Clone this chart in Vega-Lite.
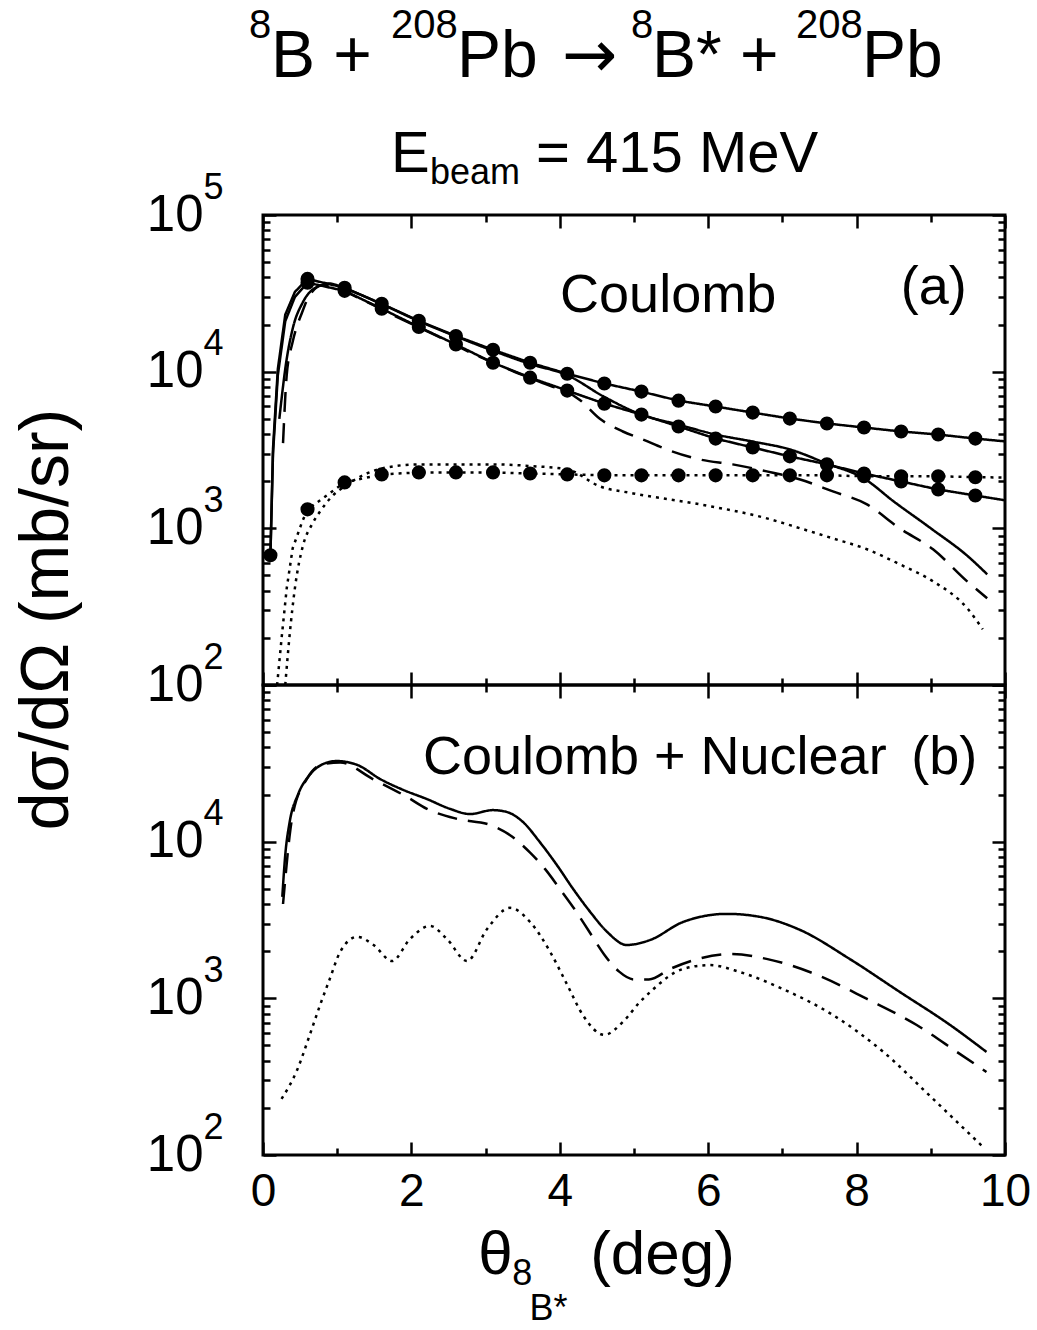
{
  "$schema": "https://vega.github.io/schema/vega-lite/v6.json",
  "background": "white",
  "padding": {"left": 11, "top": 4, "right": 5, "bottom": 5},
  "config": {
    "font": "Liberation Sans",
    "view": {"stroke": "black", "strokeWidth": 3},
    "axis": {"grid": false, "domain": false, "tickColor": "black", "tickWidth": 2.5, "labelColor": "black", "labelFont": "Liberation Sans", "titleFont": "Liberation Sans", "titleColor": "black", "titleFontWeight": "normal", "labelFlush": false, "labelOverlap": false, "labelBound": false},
    "text": {"font": "Liberation Sans", "color": "black", "baseline": "alphabetic", "align": "left"}
  },
  "datasets": {
    "curves": [
      {"curve": "a-solid-dots-upper", "x": 0.1, "y": 673}, {"curve": "a-solid-dots-upper", "x": 0.135, "y": 3240}, {"curve": "a-solid-dots-upper", "x": 0.2, "y": 10400}, {"curve": "a-solid-dots-upper", "x": 0.3, "y": 23100}, {"curve": "a-solid-dots-upper", "x": 0.43, "y": 32300}, {"curve": "a-solid-dots-upper", "x": 0.6, "y": 39100}, {"curve": "a-solid-dots-upper", "x": 1.1, "y": 34300}, {"curve": "a-solid-dots-upper", "x": 1.6, "y": 27100}, {"curve": "a-solid-dots-upper", "x": 2.1, "y": 21100}, {"curve": "a-solid-dots-upper", "x": 2.6, "y": 16900}, {"curve": "a-solid-dots-upper", "x": 3.1, "y": 13800}, {"curve": "a-solid-dots-upper", "x": 3.6, "y": 11400}, {"curve": "a-solid-dots-upper", "x": 4.1, "y": 9700}, {"curve": "a-solid-dots-upper", "x": 4.6, "y": 8400}, {"curve": "a-solid-dots-upper", "x": 5.1, "y": 7460}, {"curve": "a-solid-dots-upper", "x": 5.6, "y": 6530}, {"curve": "a-solid-dots-upper", "x": 6.1, "y": 5990}, {"curve": "a-solid-dots-upper", "x": 6.6, "y": 5480}, {"curve": "a-solid-dots-upper", "x": 7.1, "y": 5020}, {"curve": "a-solid-dots-upper", "x": 7.6, "y": 4670}, {"curve": "a-solid-dots-upper", "x": 8.1, "y": 4400}, {"curve": "a-solid-dots-upper", "x": 8.6, "y": 4150}, {"curve": "a-solid-dots-upper", "x": 9.1, "y": 3970}, {"curve": "a-solid-dots-upper", "x": 9.6, "y": 3740}, {"curve": "a-solid-dots-upper", "x": 10, "y": 3590},
      {"curve": "a-solid-dots-lower", "x": 0.1, "y": 673}, {"curve": "a-solid-dots-lower", "x": 0.135, "y": 3000}, {"curve": "a-solid-dots-lower", "x": 0.2, "y": 9500}, {"curve": "a-solid-dots-lower", "x": 0.3, "y": 21000}, {"curve": "a-solid-dots-lower", "x": 0.43, "y": 30000}, {"curve": "a-solid-dots-lower", "x": 0.6, "y": 37000}, {"curve": "a-solid-dots-lower", "x": 1.1, "y": 32800}, {"curve": "a-solid-dots-lower", "x": 1.6, "y": 25200}, {"curve": "a-solid-dots-lower", "x": 2.1, "y": 19300}, {"curve": "a-solid-dots-lower", "x": 2.6, "y": 14900}, {"curve": "a-solid-dots-lower", "x": 3.1, "y": 11400}, {"curve": "a-solid-dots-lower", "x": 3.6, "y": 9160}, {"curve": "a-solid-dots-lower", "x": 4.1, "y": 7570}, {"curve": "a-solid-dots-lower", "x": 4.6, "y": 6250}, {"curve": "a-solid-dots-lower", "x": 5.1, "y": 5320}, {"curve": "a-solid-dots-lower", "x": 5.6, "y": 4470}, {"curve": "a-solid-dots-lower", "x": 6.1, "y": 3740}, {"curve": "a-solid-dots-lower", "x": 6.6, "y": 3280}, {"curve": "a-solid-dots-lower", "x": 7.1, "y": 2880}, {"curve": "a-solid-dots-lower", "x": 7.6, "y": 2560}, {"curve": "a-solid-dots-lower", "x": 8.1, "y": 2240}, {"curve": "a-solid-dots-lower", "x": 8.6, "y": 1990}, {"curve": "a-solid-dots-lower", "x": 9.1, "y": 1770}, {"curve": "a-solid-dots-lower", "x": 9.6, "y": 1620}, {"curve": "a-solid-dots-lower", "x": 10, "y": 1510},
      {"curve": "a-dotted-dots", "x": 0.19, "y": 100}, {"curve": "a-dotted-dots", "x": 0.256, "y": 211}, {"curve": "a-dotted-dots", "x": 0.32, "y": 415}, {"curve": "a-dotted-dots", "x": 0.4, "y": 746}, {"curve": "a-dotted-dots", "x": 0.53, "y": 1108}, {"curve": "a-dotted-dots", "x": 0.6, "y": 1322}, {"curve": "a-dotted-dots", "x": 1.1, "y": 1963}, {"curve": "a-dotted-dots", "x": 1.6, "y": 2210}, {"curve": "a-dotted-dots", "x": 2.1, "y": 2275}, {"curve": "a-dotted-dots", "x": 2.6, "y": 2275}, {"curve": "a-dotted-dots", "x": 3.1, "y": 2275}, {"curve": "a-dotted-dots", "x": 3.6, "y": 2240}, {"curve": "a-dotted-dots", "x": 4.1, "y": 2210}, {"curve": "a-dotted-dots", "x": 4.6, "y": 2180}, {"curve": "a-dotted-dots", "x": 5.1, "y": 2180}, {"curve": "a-dotted-dots", "x": 5.6, "y": 2180}, {"curve": "a-dotted-dots", "x": 6.1, "y": 2180}, {"curve": "a-dotted-dots", "x": 6.6, "y": 2180}, {"curve": "a-dotted-dots", "x": 7.1, "y": 2180}, {"curve": "a-dotted-dots", "x": 7.6, "y": 2180}, {"curve": "a-dotted-dots", "x": 8.1, "y": 2150}, {"curve": "a-dotted-dots", "x": 8.6, "y": 2150}, {"curve": "a-dotted-dots", "x": 9.1, "y": 2150}, {"curve": "a-dotted-dots", "x": 9.6, "y": 2120}, {"curve": "a-dotted-dots", "x": 10, "y": 2110},
      {"curve": "a-solid", "x": 0.22, "y": 5000}, {"curve": "a-solid", "x": 0.32, "y": 12100}, {"curve": "a-solid", "x": 0.4, "y": 18800}, {"curve": "a-solid", "x": 0.54, "y": 27900}, {"curve": "a-solid", "x": 0.73, "y": 34800}, {"curve": "a-solid", "x": 0.9, "y": 36500}, {"curve": "a-solid", "x": 1.1, "y": 34000}, {"curve": "a-solid", "x": 1.6, "y": 27000}, {"curve": "a-solid", "x": 2.1, "y": 21000}, {"curve": "a-solid", "x": 2.6, "y": 16800}, {"curve": "a-solid", "x": 3.1, "y": 13600}, {"curve": "a-solid", "x": 3.6, "y": 11200}, {"curve": "a-solid", "x": 4.1, "y": 9500}, {"curve": "a-solid", "x": 4.6, "y": 6900}, {"curve": "a-solid", "x": 5.1, "y": 5320}, {"curve": "a-solid", "x": 5.6, "y": 4590}, {"curve": "a-solid", "x": 6.1, "y": 3970}, {"curve": "a-solid", "x": 6.6, "y": 3580}, {"curve": "a-solid", "x": 7.1, "y": 3190}, {"curve": "a-solid", "x": 7.6, "y": 2590}, {"curve": "a-solid", "x": 8.1, "y": 2080}, {"curve": "a-solid", "x": 8.5, "y": 1485}, {"curve": "a-solid", "x": 9.0, "y": 1000}, {"curve": "a-solid", "x": 9.5, "y": 663}, {"curve": "a-solid", "x": 9.76, "y": 509},
      {"curve": "a-dashed", "x": 0.27, "y": 3500}, {"curve": "a-dashed", "x": 0.32, "y": 9570}, {"curve": "a-dashed", "x": 0.4, "y": 15500}, {"curve": "a-dashed", "x": 0.53, "y": 24100}, {"curve": "a-dashed", "x": 0.63, "y": 30900}, {"curve": "a-dashed", "x": 0.81, "y": 35800}, {"curve": "a-dashed", "x": 1.0, "y": 34000}, {"curve": "a-dashed", "x": 1.31, "y": 29200}, {"curve": "a-dashed", "x": 1.8, "y": 22400}, {"curve": "a-dashed", "x": 2.3, "y": 17300}, {"curve": "a-dashed", "x": 2.83, "y": 13000}, {"curve": "a-dashed", "x": 3.28, "y": 10500}, {"curve": "a-dashed", "x": 3.73, "y": 8600}, {"curve": "a-dashed", "x": 4.27, "y": 6600}, {"curve": "a-dashed", "x": 4.54, "y": 5000}, {"curve": "a-dashed", "x": 4.85, "y": 4150}, {"curve": "a-dashed", "x": 5.12, "y": 3690}, {"curve": "a-dashed", "x": 5.44, "y": 3190}, {"curve": "a-dashed", "x": 5.89, "y": 2750}, {"curve": "a-dashed", "x": 6.33, "y": 2560}, {"curve": "a-dashed", "x": 6.79, "y": 2310}, {"curve": "a-dashed", "x": 7.24, "y": 2050}, {"curve": "a-dashed", "x": 7.68, "y": 1720}, {"curve": "a-dashed", "x": 8.14, "y": 1422}, {"curve": "a-dashed", "x": 8.58, "y": 1000}, {"curve": "a-dashed", "x": 9.03, "y": 735}, {"curve": "a-dashed", "x": 9.49, "y": 459}, {"curve": "a-dashed", "x": 9.76, "y": 358},
      {"curve": "a-dotted", "x": 0.3, "y": 100}, {"curve": "a-dotted", "x": 0.36, "y": 211}, {"curve": "a-dotted", "x": 0.43, "y": 415}, {"curve": "a-dotted", "x": 0.54, "y": 780}, {"curve": "a-dotted", "x": 0.66, "y": 1060}, {"curve": "a-dotted", "x": 0.77, "y": 1283}, {"curve": "a-dotted", "x": 0.93, "y": 1600}, {"curve": "a-dotted", "x": 1.1, "y": 1853}, {"curve": "a-dotted", "x": 1.6, "y": 2410}, {"curve": "a-dotted", "x": 2.1, "y": 2560}, {"curve": "a-dotted", "x": 2.6, "y": 2560}, {"curve": "a-dotted", "x": 3.1, "y": 2560}, {"curve": "a-dotted", "x": 3.6, "y": 2500}, {"curve": "a-dotted", "x": 4.1, "y": 2380}, {"curve": "a-dotted", "x": 4.54, "y": 1853}, {"curve": "a-dotted", "x": 4.99, "y": 1671}, {"curve": "a-dotted", "x": 5.89, "y": 1422}, {"curve": "a-dotted", "x": 6.79, "y": 1158}, {"curve": "a-dotted", "x": 7.24, "y": 1000}, {"curve": "a-dotted", "x": 7.68, "y": 863}, {"curve": "a-dotted", "x": 8.14, "y": 735}, {"curve": "a-dotted", "x": 8.58, "y": 590}, {"curve": "a-dotted", "x": 9.03, "y": 459}, {"curve": "a-dotted", "x": 9.49, "y": 309}, {"curve": "a-dotted", "x": 9.7, "y": 227},
      {"curve": "b-solid", "x": 0.26, "y": 4440}, {"curve": "b-solid", "x": 0.3, "y": 8230}, {"curve": "b-solid", "x": 0.36, "y": 13400}, {"curve": "b-solid", "x": 0.47, "y": 19900}, {"curve": "b-solid", "x": 0.63, "y": 26700}, {"curve": "b-solid", "x": 0.81, "y": 31300}, {"curve": "b-solid", "x": 0.99, "y": 32700}, {"curve": "b-solid", "x": 1.27, "y": 30900}, {"curve": "b-solid", "x": 1.58, "y": 25100}, {"curve": "b-solid", "x": 1.89, "y": 21400}, {"curve": "b-solid", "x": 2.21, "y": 18700}, {"curve": "b-solid", "x": 2.52, "y": 16200}, {"curve": "b-solid", "x": 2.79, "y": 15000}, {"curve": "b-solid", "x": 3.1, "y": 15900}, {"curve": "b-solid", "x": 3.28, "y": 15500}, {"curve": "b-solid", "x": 3.5, "y": 13400}, {"curve": "b-solid", "x": 3.73, "y": 9950}, {"curve": "b-solid", "x": 3.96, "y": 7100}, {"curve": "b-solid", "x": 4.18, "y": 4990}, {"curve": "b-solid", "x": 4.41, "y": 3560}, {"curve": "b-solid", "x": 4.64, "y": 2650}, {"curve": "b-solid", "x": 4.9, "y": 2190}, {"curve": "b-solid", "x": 5.22, "y": 2360}, {"curve": "b-solid", "x": 5.66, "y": 3070}, {"curve": "b-solid", "x": 6.25, "y": 3460}, {"curve": "b-solid", "x": 6.7, "y": 3310}, {"curve": "b-solid", "x": 7.24, "y": 2730}, {"curve": "b-solid", "x": 7.91, "y": 1780}, {"curve": "b-solid", "x": 8.58, "y": 1100}, {"curve": "b-solid", "x": 9.26, "y": 676}, {"curve": "b-solid", "x": 9.75, "y": 455},
      {"curve": "b-dashed", "x": 0.27, "y": 4000}, {"curve": "b-dashed", "x": 0.4, "y": 14800}, {"curve": "b-dashed", "x": 0.59, "y": 25100}, {"curve": "b-dashed", "x": 0.81, "y": 31300}, {"curve": "b-dashed", "x": 1.04, "y": 32000}, {"curve": "b-dashed", "x": 1.48, "y": 25100}, {"curve": "b-dashed", "x": 1.94, "y": 19300}, {"curve": "b-dashed", "x": 2.21, "y": 16200}, {"curve": "b-dashed", "x": 2.61, "y": 14000}, {"curve": "b-dashed", "x": 3.06, "y": 12800}, {"curve": "b-dashed", "x": 3.33, "y": 11000}, {"curve": "b-dashed", "x": 3.6, "y": 8500}, {"curve": "b-dashed", "x": 3.8, "y": 6700}, {"curve": "b-dashed", "x": 4.0, "y": 5000}, {"curve": "b-dashed", "x": 4.2, "y": 3700}, {"curve": "b-dashed", "x": 4.4, "y": 2650}, {"curve": "b-dashed", "x": 4.6, "y": 1900}, {"curve": "b-dashed", "x": 4.8, "y": 1480}, {"curve": "b-dashed", "x": 5.0, "y": 1320}, {"curve": "b-dashed", "x": 5.2, "y": 1320}, {"curve": "b-dashed", "x": 5.5, "y": 1550}, {"curve": "b-dashed", "x": 5.8, "y": 1750}, {"curve": "b-dashed", "x": 6.3, "y": 1920}, {"curve": "b-dashed", "x": 6.8, "y": 1780}, {"curve": "b-dashed", "x": 7.47, "y": 1410}, {"curve": "b-dashed", "x": 8.14, "y": 991}, {"curve": "b-dashed", "x": 8.81, "y": 676}, {"curve": "b-dashed", "x": 9.39, "y": 442}, {"curve": "b-dashed", "x": 9.75, "y": 339},
      {"curve": "b-dotted", "x": 0.25, "y": 228}, {"curve": "b-dotted", "x": 0.46, "y": 349}, {"curve": "b-dotted", "x": 0.63, "y": 584}, {"curve": "b-dotted", "x": 0.77, "y": 908}, {"curve": "b-dotted", "x": 0.9, "y": 1330}, {"curve": "b-dotted", "x": 1.04, "y": 1980}, {"curve": "b-dotted", "x": 1.27, "y": 2470}, {"curve": "b-dotted", "x": 1.49, "y": 2190}, {"curve": "b-dotted", "x": 1.74, "y": 1730}, {"curve": "b-dotted", "x": 1.98, "y": 2390}, {"curve": "b-dotted", "x": 2.25, "y": 2900}, {"curve": "b-dotted", "x": 2.48, "y": 2390}, {"curve": "b-dotted", "x": 2.75, "y": 1730}, {"curve": "b-dotted", "x": 3.02, "y": 2770}, {"curve": "b-dotted", "x": 3.33, "y": 3780}, {"curve": "b-dotted", "x": 3.6, "y": 3070}, {"curve": "b-dotted", "x": 3.87, "y": 1980}, {"curve": "b-dotted", "x": 4.1, "y": 1220}, {"curve": "b-dotted", "x": 4.31, "y": 783}, {"curve": "b-dotted", "x": 4.6, "y": 584}, {"curve": "b-dotted", "x": 4.85, "y": 707}, {"curve": "b-dotted", "x": 5.08, "y": 948}, {"curve": "b-dotted", "x": 5.22, "y": 1100}, {"curve": "b-dotted", "x": 5.66, "y": 1540}, {"curve": "b-dotted", "x": 6.02, "y": 1630}, {"curve": "b-dotted", "x": 6.43, "y": 1470}, {"curve": "b-dotted", "x": 7.0, "y": 1150}, {"curve": "b-dotted", "x": 7.68, "y": 783}, {"curve": "b-dotted", "x": 8.36, "y": 455}, {"curve": "b-dotted", "x": 9.03, "y": 228}, {"curve": "b-dotted", "x": 9.7, "y": 113}
    ],
    "markers": [
      {"curve": "a-solid-dots-upper", "x": 0.1, "y": 673}, {"curve": "a-solid-dots-upper", "x": 0.6, "y": 39100}, {"curve": "a-solid-dots-upper", "x": 1.1, "y": 34300}, {"curve": "a-solid-dots-upper", "x": 1.6, "y": 27100}, {"curve": "a-solid-dots-upper", "x": 2.1, "y": 21100}, {"curve": "a-solid-dots-upper", "x": 2.6, "y": 16900}, {"curve": "a-solid-dots-upper", "x": 3.1, "y": 13800}, {"curve": "a-solid-dots-upper", "x": 3.6, "y": 11400}, {"curve": "a-solid-dots-upper", "x": 4.1, "y": 9700}, {"curve": "a-solid-dots-upper", "x": 4.6, "y": 8400}, {"curve": "a-solid-dots-upper", "x": 5.1, "y": 7460}, {"curve": "a-solid-dots-upper", "x": 5.6, "y": 6530}, {"curve": "a-solid-dots-upper", "x": 6.1, "y": 5990}, {"curve": "a-solid-dots-upper", "x": 6.6, "y": 5480}, {"curve": "a-solid-dots-upper", "x": 7.1, "y": 5020}, {"curve": "a-solid-dots-upper", "x": 7.6, "y": 4670}, {"curve": "a-solid-dots-upper", "x": 8.1, "y": 4400}, {"curve": "a-solid-dots-upper", "x": 8.6, "y": 4150}, {"curve": "a-solid-dots-upper", "x": 9.1, "y": 3970}, {"curve": "a-solid-dots-upper", "x": 9.6, "y": 3740},
      {"curve": "a-solid-dots-lower", "x": 0.6, "y": 37000}, {"curve": "a-solid-dots-lower", "x": 1.1, "y": 32800}, {"curve": "a-solid-dots-lower", "x": 1.6, "y": 25200}, {"curve": "a-solid-dots-lower", "x": 2.1, "y": 19300}, {"curve": "a-solid-dots-lower", "x": 2.6, "y": 14900}, {"curve": "a-solid-dots-lower", "x": 3.1, "y": 11400}, {"curve": "a-solid-dots-lower", "x": 3.6, "y": 9160}, {"curve": "a-solid-dots-lower", "x": 4.1, "y": 7570}, {"curve": "a-solid-dots-lower", "x": 4.6, "y": 6250}, {"curve": "a-solid-dots-lower", "x": 5.1, "y": 5320}, {"curve": "a-solid-dots-lower", "x": 5.6, "y": 4470}, {"curve": "a-solid-dots-lower", "x": 6.1, "y": 3740}, {"curve": "a-solid-dots-lower", "x": 6.6, "y": 3280}, {"curve": "a-solid-dots-lower", "x": 7.1, "y": 2880}, {"curve": "a-solid-dots-lower", "x": 7.6, "y": 2560}, {"curve": "a-solid-dots-lower", "x": 8.1, "y": 2240}, {"curve": "a-solid-dots-lower", "x": 8.6, "y": 1990}, {"curve": "a-solid-dots-lower", "x": 9.1, "y": 1770}, {"curve": "a-solid-dots-lower", "x": 9.6, "y": 1620},
      {"curve": "a-dotted-dots", "x": 0.6, "y": 1322}, {"curve": "a-dotted-dots", "x": 1.1, "y": 1963}, {"curve": "a-dotted-dots", "x": 1.6, "y": 2210}, {"curve": "a-dotted-dots", "x": 2.1, "y": 2275}, {"curve": "a-dotted-dots", "x": 2.6, "y": 2275}, {"curve": "a-dotted-dots", "x": 3.1, "y": 2275}, {"curve": "a-dotted-dots", "x": 3.6, "y": 2240}, {"curve": "a-dotted-dots", "x": 4.1, "y": 2210}, {"curve": "a-dotted-dots", "x": 4.6, "y": 2180}, {"curve": "a-dotted-dots", "x": 5.1, "y": 2180}, {"curve": "a-dotted-dots", "x": 5.6, "y": 2180}, {"curve": "a-dotted-dots", "x": 6.1, "y": 2180}, {"curve": "a-dotted-dots", "x": 6.6, "y": 2180}, {"curve": "a-dotted-dots", "x": 7.1, "y": 2180}, {"curve": "a-dotted-dots", "x": 7.6, "y": 2180}, {"curve": "a-dotted-dots", "x": 8.1, "y": 2150}, {"curve": "a-dotted-dots", "x": 8.6, "y": 2150}, {"curve": "a-dotted-dots", "x": 9.1, "y": 2150}, {"curve": "a-dotted-dots", "x": 9.6, "y": 2120}
    ]
  },
  "vconcat": [
    {
      "width": 742, "height": 470,
      "resolve": {"axis": {"x": "independent", "y": "independent"}},
      "layer": [
        {
          "data": {"name": "curves"},
          "transform": [{"filter": {"field": "curve", "oneOf": ["a-solid-dots-upper", "a-solid-dots-lower", "a-dotted-dots"]}}],
          "mark": {"type": "line", "interpolate": "linear", "clip": true, "strokeWidth": 2.5, "color": "black"},
          "encoding": {
            "x": {"field": "x", "type": "quantitative", "scale": {"domain": [0, 10], "nice": false, "zero": false}, "axis": {"orient": "bottom", "values": [0, 2, 4, 6, 8, 10], "tickSize": -13, "labels": false, "title": null}},
            "y": {"field": "y", "type": "quantitative", "scale": {"type": "log", "domain": [100, 100000], "nice": false}, "axis": {"orient": "left", "values": [100, 1000, 10000, 100000], "tickSize": -13, "labels": false, "title": null}},
            "strokeDash": {"field": "curve", "type": "nominal", "legend": null, "scale": {"domain": ["a-solid-dots-upper", "a-solid-dots-lower", "a-dotted-dots", "a-solid", "a-dashed", "a-dotted", "b-solid", "b-dashed", "b-dotted"], "range": [[1, 0], [1, 0], [3, 5], [1, 0], [20, 11], [3, 5], [1, 0], [20, 11], [3, 5]]}}
          }
        },
        {
          "data": {"name": "curves"},
          "transform": [{"filter": {"field": "curve", "oneOf": ["a-solid", "a-dashed", "a-dotted"]}}],
          "mark": {"type": "line", "interpolate": "monotone", "clip": true, "strokeWidth": 2.5, "color": "black"},
          "encoding": {
            "x": {"field": "x", "type": "quantitative", "scale": {"domain": [0, 10], "nice": false, "zero": false}, "axis": {"orient": "bottom", "values": [1, 3, 5, 7, 9], "tickSize": -7, "labels": false, "title": null}},
            "y": {"field": "y", "type": "quantitative", "scale": {"type": "log", "domain": [100, 100000], "nice": false}, "axis": {"orient": "left", "values": [200, 300, 400, 500, 600, 700, 800, 900, 2000, 3000, 4000, 5000, 6000, 7000, 8000, 9000, 20000, 30000, 40000, 50000, 60000, 70000, 80000, 90000], "tickSize": -7, "labels": false, "title": null}},
            "strokeDash": {"field": "curve", "type": "nominal", "legend": null, "scale": {"domain": ["a-solid-dots-upper", "a-solid-dots-lower", "a-dotted-dots", "a-solid", "a-dashed", "a-dotted", "b-solid", "b-dashed", "b-dotted"], "range": [[1, 0], [1, 0], [3, 5], [1, 0], [20, 11], [3, 5], [1, 0], [20, 11], [3, 5]]}}
          }
        },
        {
          "data": {"name": "markers"},
          "mark": {"type": "point", "filled": true, "size": 200, "color": "black", "opacity": 1, "shape": "circle"},
          "encoding": {
            "x": {"field": "x", "type": "quantitative", "scale": {"domain": [0, 10], "nice": false, "zero": false}, "axis": {"orient": "top", "values": [0, 2, 4, 6, 8, 10], "tickSize": -13, "labels": false, "title": null}},
            "y": {"field": "y", "type": "quantitative", "scale": {"type": "log", "domain": [100, 100000], "nice": false}, "axis": {"orient": "right", "values": [100, 1000, 10000, 100000], "tickSize": -13, "labels": false, "title": null}}
          }
        },
        {
          "data": {"values": [{}]},
          "mark": {"type": "text", "text": "Coulomb", "fontSize": 54, "align": "center"},
          "encoding": {
            "x": {"datum": 5.46, "type": "quantitative", "scale": {"domain": [0, 10], "nice": false, "zero": false}, "axis": {"orient": "top", "values": [1, 3, 5, 7, 9], "tickSize": -7, "labels": false, "title": null}},
            "y": {"datum": 24100, "type": "quantitative", "scale": {"type": "log", "domain": [100, 100000], "nice": false}, "axis": {"orient": "right", "values": [200, 300, 400, 500, 600, 700, 800, 900, 2000, 3000, 4000, 5000, 6000, 7000, 8000, 9000, 20000, 30000, 40000, 50000, 60000, 70000, 80000, 90000], "tickSize": -7, "labels": false, "title": null}}
          }
        },
        {
          "data": {"values": [{}]},
          "mark": {"type": "text", "text": "(a)", "fontSize": 54, "align": "center"},
          "encoding": {
            "x": {"datum": 9.04, "type": "quantitative", "scale": {"domain": [0, 10], "nice": false, "zero": false}, "axis": null},
            "y": {"datum": 27100, "type": "quantitative", "scale": {"type": "log", "domain": [100, 100000], "nice": false}, "axis": {"orient": "left", "values": [100, 1000, 10000, 100000], "ticks": false, "labelExpr": "'10'", "labelFontSize": 51, "labelPadding": 60, "title": "dσ/dΩ (mb/sr)", "titleFontSize": 68, "titleX": -182, "titleY": 404}}
          }
        },
        {
          "data": {"values": [{}]},
          "mark": {"type": "text", "text": "E", "fontSize": 58},
          "encoding": {
            "x": {"datum": 1.725, "type": "quantitative", "scale": {"domain": [0, 10], "nice": false, "zero": false}, "axis": null},
            "y": {"datum": 188000, "type": "quantitative", "scale": {"type": "log", "domain": [100, 100000], "nice": false}, "axis": {"orient": "left", "values": [100, 1000, 10000, 100000], "ticks": false, "labelExpr": "datum.value == 100 ? '2' : datum.value == 1000 ? '3' : datum.value == 10000 ? '4' : '5'", "labelFontSize": 36, "labelAlign": "left", "labelPadding": 60, "labelOffset": -28, "title": null}}
          }
        },
        {
          "data": {"values": [{}]},
          "mark": {"type": "text", "text": "beam", "fontSize": 36},
          "encoding": {
            "x": {"datum": 2.25, "type": "quantitative", "scale": {"domain": [0, 10], "nice": false, "zero": false}, "axis": null},
            "y": {"datum": 157500, "type": "quantitative", "scale": {"type": "log", "domain": [100, 100000], "nice": false}, "axis": null}
          }
        },
        {
          "data": {"values": [{}]},
          "mark": {"type": "text", "text": "= 415 MeV", "fontSize": 58},
          "encoding": {
            "x": {"datum": 3.68, "type": "quantitative", "scale": {"domain": [0, 10], "nice": false, "zero": false}, "axis": null},
            "y": {"datum": 188000, "type": "quantitative", "scale": {"type": "log", "domain": [100, 100000], "nice": false}, "axis": null}
          }
        },
        {
          "data": {"values": [{}]},
          "mark": {"type": "text", "text": "8", "fontSize": 40},
          "encoding": {
            "x": {"datum": -0.189, "type": "quantitative", "scale": {"domain": [0, 10], "nice": false, "zero": false}, "axis": null},
            "y": {"datum": 1340000, "type": "quantitative", "scale": {"type": "log", "domain": [100, 100000], "nice": false}, "axis": null}
          }
        },
        {
          "data": {"values": [{}]},
          "mark": {"type": "text", "text": "B +", "fontSize": 66},
          "encoding": {
            "x": {"datum": 0.108, "type": "quantitative", "scale": {"domain": [0, 10], "nice": false, "zero": false}, "axis": null},
            "y": {"datum": 757000, "type": "quantitative", "scale": {"type": "log", "domain": [100, 100000], "nice": false}, "axis": null}
          }
        },
        {
          "data": {"values": [{}]},
          "mark": {"type": "text", "text": "208", "fontSize": 40},
          "encoding": {
            "x": {"datum": 1.725, "type": "quantitative", "scale": {"domain": [0, 10], "nice": false, "zero": false}, "axis": null},
            "y": {"datum": 1340000, "type": "quantitative", "scale": {"type": "log", "domain": [100, 100000], "nice": false}, "axis": null}
          }
        },
        {
          "data": {"values": [{}]},
          "mark": {"type": "text", "text": "Pb", "fontSize": 66},
          "encoding": {
            "x": {"datum": 2.615, "type": "quantitative", "scale": {"domain": [0, 10], "nice": false, "zero": false}, "axis": null},
            "y": {"datum": 757000, "type": "quantitative", "scale": {"type": "log", "domain": [100, 100000], "nice": false}, "axis": null}
          }
        },
        {
          "data": {"values": [{}]},
          "mark": {"type": "text", "text": "→", "fontSize": 66, "font": "DejaVu Sans"},
          "encoding": {
            "x": {"datum": 4.03, "type": "quantitative", "scale": {"domain": [0, 10], "nice": false, "zero": false}, "axis": null},
            "y": {"datum": 757000, "type": "quantitative", "scale": {"type": "log", "domain": [100, 100000], "nice": false}, "axis": null}
          }
        },
        {
          "data": {"values": [{}]},
          "mark": {"type": "text", "text": "8", "fontSize": 40},
          "encoding": {
            "x": {"datum": 4.96, "type": "quantitative", "scale": {"domain": [0, 10], "nice": false, "zero": false}, "axis": null},
            "y": {"datum": 1340000, "type": "quantitative", "scale": {"type": "log", "domain": [100, 100000], "nice": false}, "axis": null}
          }
        },
        {
          "data": {"values": [{}]},
          "mark": {"type": "text", "text": "B* +", "fontSize": 66},
          "encoding": {
            "x": {"datum": 5.243, "type": "quantitative", "scale": {"domain": [0, 10], "nice": false, "zero": false}, "axis": null},
            "y": {"datum": 757000, "type": "quantitative", "scale": {"type": "log", "domain": [100, 100000], "nice": false}, "axis": null}
          }
        },
        {
          "data": {"values": [{}]},
          "mark": {"type": "text", "text": "208", "fontSize": 40},
          "encoding": {
            "x": {"datum": 7.183, "type": "quantitative", "scale": {"domain": [0, 10], "nice": false, "zero": false}, "axis": null},
            "y": {"datum": 1340000, "type": "quantitative", "scale": {"type": "log", "domain": [100, 100000], "nice": false}, "axis": null}
          }
        },
        {
          "data": {"values": [{}]},
          "mark": {"type": "text", "text": "Pb", "fontSize": 66},
          "encoding": {
            "x": {"datum": 8.073, "type": "quantitative", "scale": {"domain": [0, 10], "nice": false, "zero": false}, "axis": null},
            "y": {"datum": 757000, "type": "quantitative", "scale": {"type": "log", "domain": [100, 100000], "nice": false}, "axis": null}
          }
        }
      ]
    },
    {
      "width": 742, "height": 470,
      "resolve": {"axis": {"x": "independent", "y": "independent"}},
      "layer": [
        {
          "data": {"name": "curves"},
          "transform": [{"filter": {"field": "curve", "oneOf": ["b-solid", "b-dashed", "b-dotted"]}}],
          "mark": {"type": "line", "interpolate": "monotone", "clip": true, "strokeWidth": 2.5, "color": "black"},
          "encoding": {
            "x": {"field": "x", "type": "quantitative", "scale": {"domain": [0, 10], "nice": false, "zero": false}, "axis": {"orient": "bottom", "values": [0, 2, 4, 6, 8, 10], "tickSize": -13, "labels": false, "title": null}},
            "y": {"field": "y", "type": "quantitative", "scale": {"type": "log", "domain": [100, 100000], "nice": false}, "axis": {"orient": "left", "values": [100, 1000, 10000, 100000], "tickSize": -13, "labels": false, "title": null}},
            "strokeDash": {"field": "curve", "type": "nominal", "legend": null, "scale": {"domain": ["a-solid-dots-upper", "a-solid-dots-lower", "a-dotted-dots", "a-solid", "a-dashed", "a-dotted", "b-solid", "b-dashed", "b-dotted"], "range": [[1, 0], [1, 0], [3, 5], [1, 0], [20, 11], [3, 5], [1, 0], [20, 11], [3, 5]]}}
          }
        },
        {
          "data": {"values": [{}]},
          "mark": {"type": "text", "text": "Coulomb + Nuclear", "fontSize": 54, "align": "center"},
          "encoding": {
            "x": {"datum": 5.28, "type": "quantitative", "scale": {"domain": [0, 10], "nice": false, "zero": false}, "axis": {"orient": "bottom", "values": [1, 3, 5, 7, 9], "tickSize": -7, "labels": false, "title": null}},
            "y": {"datum": 27000, "type": "quantitative", "scale": {"type": "log", "domain": [100, 100000], "nice": false}, "axis": {"orient": "left", "values": [200, 300, 400, 500, 600, 700, 800, 900, 2000, 3000, 4000, 5000, 6000, 7000, 8000, 9000, 20000, 30000, 40000, 50000, 60000, 70000, 80000, 90000], "tickSize": -7, "labels": false, "title": null}}
          }
        },
        {
          "data": {"values": [{}]},
          "mark": {"type": "text", "text": "(b)", "fontSize": 54, "align": "center"},
          "encoding": {
            "x": {"datum": 9.18, "type": "quantitative", "scale": {"domain": [0, 10], "nice": false, "zero": false}, "axis": {"orient": "top", "values": [0, 2, 4, 6, 8, 10], "tickSize": -13, "labels": false, "title": null}},
            "y": {"datum": 27000, "type": "quantitative", "scale": {"type": "log", "domain": [100, 100000], "nice": false}, "axis": {"orient": "right", "values": [100, 1000, 10000, 100000], "tickSize": -13, "labels": false, "title": null}}
          }
        },
        {
          "data": {"values": [{}]},
          "mark": {"type": "text", "text": "θ", "fontSize": 62},
          "encoding": {
            "x": {"datum": 2.9, "type": "quantitative", "scale": {"domain": [0, 10], "nice": false, "zero": false}, "axis": {"orient": "top", "values": [1, 3, 5, 7, 9], "tickSize": -7, "labels": false, "title": null}},
            "y": {"datum": 17.4, "type": "quantitative", "scale": {"type": "log", "domain": [100, 100000], "nice": false}, "axis": {"orient": "right", "values": [200, 300, 400, 500, 600, 700, 800, 900, 2000, 3000, 4000, 5000, 6000, 7000, 8000, 9000, 20000, 30000, 40000, 50000, 60000, 70000, 80000, 90000], "tickSize": -7, "labels": false, "title": null}}
          }
        },
        {
          "data": {"values": [{}]},
          "mark": {"type": "text", "text": "8", "fontSize": 36},
          "encoding": {
            "x": {"datum": 3.36, "type": "quantitative", "scale": {"domain": [0, 10], "nice": false, "zero": false}, "axis": {"orient": "bottom", "values": [0, 2, 4, 6, 8, 10], "ticks": false, "labelFontSize": 46, "labelPadding": 14, "title": null}},
            "y": {"datum": 14.8, "type": "quantitative", "scale": {"type": "log", "domain": [100, 100000], "nice": false}, "axis": {"orient": "left", "values": [100, 1000, 10000], "ticks": false, "labelExpr": "'10'", "labelFontSize": 51, "labelPadding": 60, "title": null}}
          }
        },
        {
          "data": {"values": [{}]},
          "mark": {"type": "text", "text": "B*", "fontSize": 36},
          "encoding": {
            "x": {"datum": 3.59, "type": "quantitative", "scale": {"domain": [0, 10], "nice": false, "zero": false}, "axis": null},
            "y": {"datum": 8.85, "type": "quantitative", "scale": {"type": "log", "domain": [100, 100000], "nice": false}, "axis": {"orient": "left", "values": [100, 1000, 10000], "ticks": false, "labelExpr": "datum.value == 100 ? '2' : datum.value == 1000 ? '3' : '4'", "labelFontSize": 36, "labelAlign": "left", "labelPadding": 60, "labelOffset": -28, "title": null}}
          }
        },
        {
          "data": {"values": [{}]},
          "mark": {"type": "text", "text": "(deg)", "fontSize": 62},
          "encoding": {
            "x": {"datum": 4.41, "type": "quantitative", "scale": {"domain": [0, 10], "nice": false, "zero": false}, "axis": null},
            "y": {"datum": 17.4, "type": "quantitative", "scale": {"type": "log", "domain": [100, 100000], "nice": false}, "axis": null}
          }
        }
      ]
    }
  ],
  "spacing": 0,
  "bounds": "flush"
}
